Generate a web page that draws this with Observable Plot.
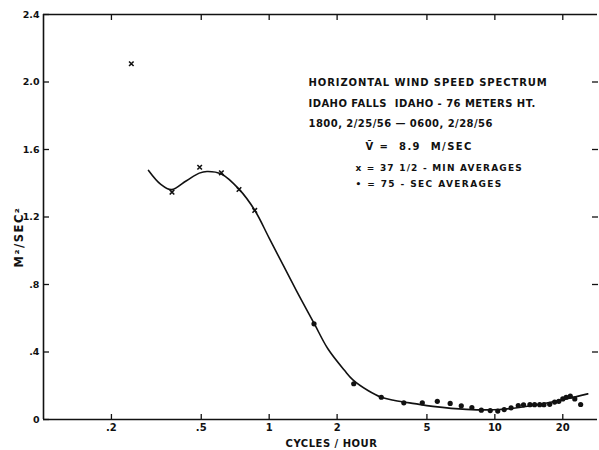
<!DOCTYPE html>
<html>
<head>
<meta charset="utf-8">
<script src="https://cdn.jsdelivr.net/npm/d3@7"></script>
<script src="https://cdn.jsdelivr.net/npm/@observablehq/plot@0.6"></script>
<style>
  html, body { margin: 0; padding: 0; background: #fff; }
  #chart svg { display: block; }
</style>
</head>
<body>
<div id="chart"></div>
<script>
// ---- data ----
const xDomain = [0.1, 28.5];
const yDomain = [0, 2.4];

const xTicks = [0.2, 0.5, 1, 2, 5, 10, 20];
const xTickLabels = [".2", ".5", "1", "2", "5", "10", "20"];
const yTicks = [0, 0.4, 0.8, 1.2, 1.6, 2.0, 2.4];
const yTickLabels = ["0", ".4", ".8", "1.2", "1.6", "2.0", "2.4"];
const yTicksRight = [0.4, 0.8, 1.2, 1.6, 2.0];

// 37 1/2-min averages (crosses)
const longFreq = [0.245, 0.371, 0.492, 0.614, 0.735, 0.863];
const longVal  = [2.108, 1.347, 1.495, 1.462, 1.363, 1.239];

// 75-sec averages (dots)
const shortFreq = [1.58, 2.37, 3.14, 3.95, 4.77, 5.56, 6.34, 7.10, 7.91, 8.71, 9.54, 10.3, 11.0, 11.8, 12.7, 13.4, 14.3, 15.0, 15.8, 16.5, 17.5, 18.4, 19.2, 20.0, 20.7, 21.6, 22.6, 24.0];
const shortVal  = [0.567, 0.212, 0.132, 0.099, 0.099, 0.108, 0.095, 0.081, 0.071, 0.055, 0.053, 0.050, 0.059, 0.069, 0.083, 0.087, 0.088, 0.088, 0.088, 0.088, 0.090, 0.103, 0.108, 0.122, 0.132, 0.138, 0.122, 0.089];

// fitted curve (hand-drawn in the original), read as knots
const curveFreq = [0.292, 0.33, 0.369, 0.43, 0.49, 0.53, 0.614, 0.735, 0.863, 1.0, 1.32, 1.58, 1.82, 2.16, 2.35, 2.74, 3.14, 3.6, 4.41, 5.31, 7.47, 10.5, 14.7, 20.7, 25.8];
const curveVal  = [1.476, 1.395, 1.362, 1.415, 1.46, 1.47, 1.455, 1.365, 1.24, 1.075, 0.764, 0.571, 0.419, 0.29, 0.235, 0.172, 0.132, 0.113, 0.094, 0.078, 0.06, 0.059, 0.083, 0.122, 0.152];

const titleLines = [
  "HORIZONTAL WIND SPEED SPECTRUM",
  "IDAHO FALLS  IDAHO - 76 METERS HT.",
  "1800, 2/25/56 \u2014 0600, 2/28/56"
];
const meanLine = "V\u0304 =  8.9  M/SEC";
const legendLines = ["x = 37 1/2 - MIN AVERAGES", "\u2022 = 75 - SEC AVERAGES"];
const xTitle = "CYCLES / HOUR";
const yTitle = "M\u00B2/SEC\u00B2";

// ---- build ----
const longPts = longFreq.map((f, i) => ({f, v: longVal[i]}));
const shortPts = shortFreq.map((f, i) => ({f, v: shortVal[i]}));
const curvePts = curveFreq.map((f, i) => ({f, v: curveVal[i]}));
const xLab = new Map(xTicks.map((t, i) => [t, xTickLabels[i]]));
const yLab = new Map(yTicks.map((t, i) => [t, yTickLabels[i]]));

const font = "'DejaVu Sans', sans-serif";
const ink = "#111";
const spacing = new Map([
  [titleLines[0], 0.9], [titleLines[1], 0.45], [titleLines[2], 0.45],
  [meanLine, 1.4], [legendLines[0], 1.2], [legendLines[1], 1.4],
  [xTitle, 0.5], [yTitle, 1.5]
]);
const note = (txt, dx, dy, size) =>
  Plot.text([txt], {frameAnchor: "top-left", dx, dy, text: d => d, textAnchor: "start", lineAnchor: "middle",
    fontSize: size, fontWeight: "bold", fill: ink});

const chart = Plot.plot({
  width: 599,
  height: 450,
  marginLeft: 43,
  marginRight: 2,
  marginTop: 14,
  marginBottom: 31,
  style: {fontFamily: font, background: "#fff", color: ink},
  x: {type: "log", domain: xDomain},
  y: {domain: yDomain},
  marks: [
    // frame lines (no right edge in original)
    Plot.ruleY([yDomain[0]], {stroke: ink, strokeWidth: 1.6}),
    Plot.ruleY([yDomain[1]], {stroke: ink, strokeWidth: 1.6}),
    Plot.ruleX([xDomain[0]], {stroke: ink, strokeWidth: 1.6}),
    // axes with inward ticks
    Plot.axisX(xTicks, {anchor: "bottom", tickSize: -5, fill: "none", stroke: ink, strokeWidth: 1.3, label: null}),
    Plot.text(xTicks, {x: d => d, frameAnchor: "bottom", dy: 4, lineAnchor: "top", text: d => xLab.get(d), fontSize: 10, fontWeight: "bold", fill: ink}),
    Plot.axisX(xTicks, {anchor: "top", tickSize: -5, fill: "none", stroke: ink, strokeWidth: 1.3, label: null}),
    Plot.axisY(yTicks, {anchor: "left", tickSize: -6, tickPadding: 10, tickFormat: d => yLab.get(d), fontSize: 9.5, fontWeight: "bold", stroke: ink, strokeWidth: 1.3, label: null}),
    Plot.axisY(yTicksRight, {anchor: "right", tickSize: -6, fill: "none", stroke: ink, strokeWidth: 1.3, label: null}),
    // curve
    Plot.line(curvePts, {x: "f", y: "v", curve: "catmull-rom", stroke: ink, strokeWidth: 1.6}),
    // data points
    Plot.dot(longPts, {x: "f", y: "v", symbol: "times", r: 2.2, stroke: ink, strokeWidth: 1.6}),
    Plot.dot(shortPts, {x: "f", y: "v", r: 2.6, fill: ink, stroke: "none"}),
    // annotation block
    note(titleLines[0], 265, 68, 10),
    note(titleLines[1], 265, 89, 10),
    note(titleLines[2], 265, 109, 10),
    note(meanLine, 322, 132, 10),
    note(legendLines[0], 312, 154, 9),
    note(legendLines[1], 312, 170, 9),
    // axis titles
    Plot.text([xTitle], {frameAnchor: "bottom", dx: 11, dy: 24, text: d => d, lineAnchor: "middle", fontSize: 10, fontWeight: "bold", fill: ink}),
    Plot.text([yTitle], {frameAnchor: "left", dx: -24, dy: 20, rotate: -90, text: d => d, textAnchor: "middle", lineAnchor: "middle", fontSize: 11.5, fontWeight: "bold", fill: ink})
  ]
});

// apply letter spacing to the hand-lettered notes (matched by their text)
chart.querySelectorAll("text").forEach(el => {
  const ls = spacing.get(el.textContent);
  if (ls != null) {
    el.setAttribute("letter-spacing", ls);
    el.style.letterSpacing = ls + "px";
  }
});

document.getElementById("chart").appendChild(chart);
</script>
</body>
</html>
